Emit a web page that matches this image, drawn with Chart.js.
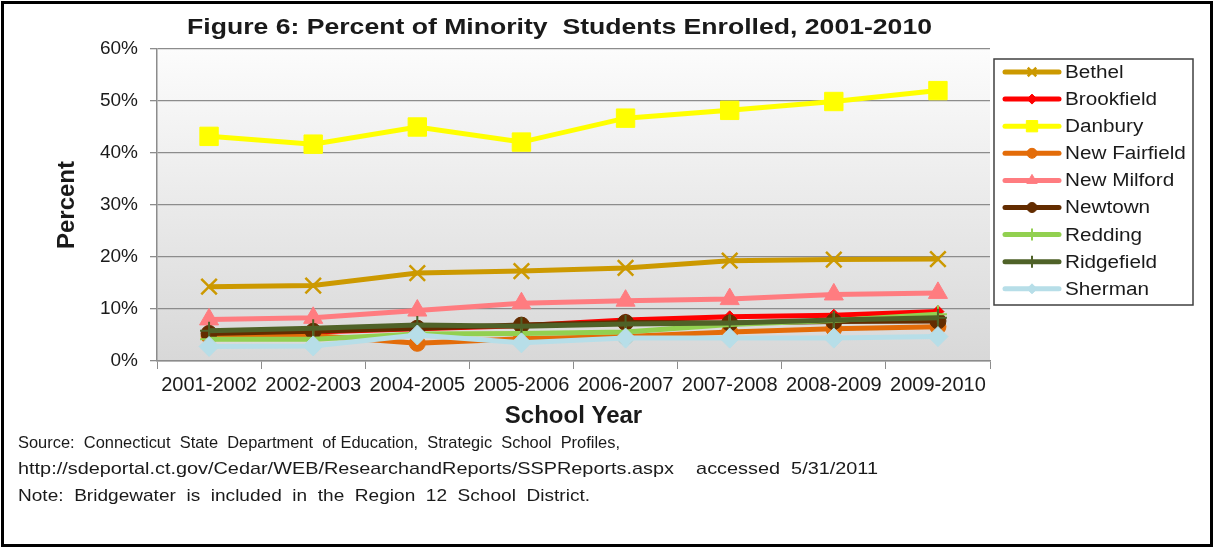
<!DOCTYPE html>
<html>
<head>
<meta charset="utf-8">
<title>Percent of Minority Students Enrolled</title>
<script src="https://cdn.jsdelivr.net/npm/chart.js@4"></script>
<style>
  html, body { margin: 0; padding: 0; background: #fff; }
  #wrap { width: 1214px; height: 548px; position: relative; }
</style>
</head>
<body>
<div id="wrap"><canvas id="enrollChart"></canvas></div>
<script>
// school years on the x axis
const schoolYears = ['2001-2002', '2002-2003', '2004-2005', '2005-2006', '2006-2007', '2007-2008', '2008-2009', '2009-2010'];
const percentTicks = [0, 10, 20, 30, 40, 50, 60];

// percent of minority students, one list per town
const bethel       = [14.3, 14.5, 16.9, 17.3, 17.9, 19.3, 19.5, 19.6];
const brookfield   = [5.3, 5.6, 6.2, 6.8, 7.9, 8.5, 8.8, 9.5];
const danbury      = [43.2, 41.7, 45.0, 42.1, 46.7, 48.2, 49.9, 52.0];
const newFairfield = [4.8, 4.9, 3.4, 4.3, 4.7, 5.6, 6.2, 6.6];
const newMilford   = [8.0, 8.3, 9.7, 11.1, 11.6, 11.9, 12.8, 13.1];
const newtown      = [5.3, 5.7, 6.3, 6.9, 7.4, 7.3, 7.6, 7.7];
const redding      = [4.2, 4.2, 5.2, 5.3, 5.6, 7.0, 7.8, 9.0];
const ridgefield   = [5.8, 6.3, 6.9, 6.7, 7.1, 7.3, 7.9, 8.3];
const sherman      = [2.8, 2.9, 5.0, 3.5, 4.4, 4.4, 4.4, 4.7];

const townNames = ['Bethel', 'Brookfield', 'Danbury', 'New Fairfield', 'New Milford', 'Newtown', 'Redding', 'Ridgefield', 'Sherman'];
const townValues = [bethel, brookfield, danbury, newFairfield, newMilford, newtown, redding, ridgefield, sherman];

const chartTitle = 'Figure 6: Percent of Minority  Students Enrolled, 2001-2010';
const sourceNotes = [
  'Source:  Connecticut  State  Department  of Education,  Strategic  School  Profiles,',
  'http://sdeportal.ct.gov/Cedar/WEB/ResearchandReports/SSPReports.aspx    accessed  5/31/2011',
  'Note:  Bridgewater  is  included  in  the  Region  12  School  District.'
];

// line colour, marker shape, marker size (plot / legend)
const styles = [
  { color: '#cc9900', point: 'crossRot', r: 11, lr: 6, bw: 2.5 },
  { color: '#ff0000', point: 'rectRot', r: 6, lr: 5, bw: 1 },
  { color: '#ffff00', point: 'rect', r: 13, lr: 8, bw: 1 },
  { color: '#e36c09', point: 'circle', r: 8, lr: 5, bw: 1 },
  { color: '#ff7c80', point: 'triangle', r: 11, lr: 6, bw: 1 },
  { color: '#632c00', point: 'circle', r: 8, lr: 5, bw: 1 },
  { color: '#92d050', point: 'cross', r: 9, lr: 6, bw: 2 },
  { color: '#4f6228', point: 'cross', r: 9, lr: 6, bw: 2 },
  { color: '#b7dee8', point: 'rectRot', r: 10, lr: 5, bw: 1 }
];

const FONT = "'Liberation Sans', Arial, sans-serif";
const TEXT = '#1a1a1a';

const datasets = townNames.map((name, i) => ({
  label: name,
  data: townValues[i],
  borderColor: styles[i].color,
  backgroundColor: styles[i].color,
  borderWidth: 5,
  pointStyle: styles[i].point,
  pointRadius: styles[i].r,
  pointBorderWidth: styles[i].bw,
  pointBorderColor: styles[i].color,
  pointBackgroundColor: styles[i].color,
  tension: 0,
  // later towns sit on top, like the original workbook
  order: townNames.length - i
}));

// text squeezed or stretched sideways to fill a given width
function fitText(ctx, text, x, y, width) {
  const w = ctx.measureText(text).width;
  ctx.save();
  ctx.translate(x, y);
  ctx.scale(width / w, 1);
  ctx.fillText(text, 0, 0);
  ctx.restore();
}

// gradient plot background
const plotBackground = {
  id: 'plotBackground',
  beforeDraw(chart) {
    const { ctx, chartArea: a } = chart;
    const g = ctx.createLinearGradient(0, a.top, 0, a.bottom);
    g.addColorStop(0, '#fcfcfc');
    g.addColorStop(1, '#d8d8d8');
    ctx.save();
    ctx.fillStyle = g;
    ctx.fillRect(a.left, a.top, a.right - a.left, a.bottom - a.top);
    ctx.restore();
  }
};

// title, boxed legend, notes and frame
const decorations = {
  id: 'decorations',
  afterDraw(chart) {
    const ctx = chart.ctx;
    ctx.save();

    ctx.fillStyle = TEXT;
    ctx.textBaseline = 'middle';
    ctx.textAlign = 'left';
    ctx.font = 'bold 22px ' + FONT;
    fitText(ctx, chartTitle, 187, 28, 745);

    // legend box
    ctx.strokeStyle = '#404040';
    ctx.lineWidth = 1.5;
    ctx.strokeRect(994, 59, 199, 246);
    ctx.font = '18px ' + FONT;
    chart.data.datasets.forEach((ds, i) => {
      const y = 72 + i * 27.1;
      const st = styles[i];
      ctx.strokeStyle = st.color;
      ctx.lineWidth = 5;
      ctx.lineCap = 'round';
      ctx.beginPath();
      ctx.moveTo(1005, y);
      ctx.lineTo(1059, y);
      ctx.stroke();
      ctx.lineCap = 'butt';
      ctx.fillStyle = st.color;
      ctx.lineWidth = st.bw;
      Chart.helpers.drawPoint(ctx, { pointStyle: st.point, radius: st.lr, borderWidth: st.bw }, 1032, y);
      ctx.fillStyle = TEXT;
      fitText(ctx, ds.label, 1065, y + 1, ctx.measureText(ds.label).width * 1.15);
    });

    // source lines
    ctx.font = '17px ' + FONT;
    ctx.fillStyle = TEXT;
    const noteWidths = [602, 860, 572];
    sourceNotes.forEach((line, i) => fitText(ctx, line, 18, 443 + i * 26.5, noteWidths[i]));

    // outer frame
    ctx.strokeStyle = '#000';
    ctx.lineWidth = 3;
    ctx.strokeRect(2.5, 2.5, 1209, 543);
    ctx.restore();
  }
};

new Chart(document.getElementById('enrollChart'), {
  type: 'line',
  data: { labels: schoolYears, datasets: datasets },
  options: {
    responsive: true,
    maintainAspectRatio: false,
    animation: false,
    events: [],
    layout: { padding: { left: 20, top: 49, right: 224, bottom: 117 } },
    plugins: {
      legend: { display: false },
      tooltip: { enabled: false },
      title: { display: false }
    },
    scales: {
      x: {
        offset: true,
        afterFit(scale) { scale.height = 70; },
        grid: {
          offset: true,
          drawOnChartArea: false,
          drawTicks: true,
          tickLength: 8,
          color: '#8c8c8c'
        },
        border: { display: true, color: '#8c8c8c', width: 1.5 },
        ticks: {
          color: TEXT,
          font: { family: FONT, size: 20 },
          padding: 4,
          maxRotation: 0,
          autoSkip: false
        },
        title: {
          display: true,
          text: 'School Year',
          color: TEXT,
          font: { family: FONT, size: 24, weight: 'bold' },
          padding: { top: 0, bottom: 0 }
        }
      },
      y: {
        min: 0,
        max: 60,
        afterFit(scale) { scale.width = 137; },
        afterBuildTicks(scale) { scale.ticks = percentTicks.map(v => ({ value: v })); },
        grid: { color: '#8c8c8c', lineWidth: 1.3, tickLength: 7 },
        border: { display: true, color: '#8c8c8c', width: 1.5 },
        ticks: {
          color: TEXT,
          font: { family: FONT, size: 19 },
          padding: 12,
          callback: v => v + '%'
        },
        title: {
          display: true,
          text: 'Percent',
          color: TEXT,
          font: { family: FONT, size: 24, weight: 'bold' },
          padding: { top: 33, bottom: 0 }
        }
      }
    }
  },
  plugins: [plotBackground, decorations]
});
</script>
</body>
</html>
